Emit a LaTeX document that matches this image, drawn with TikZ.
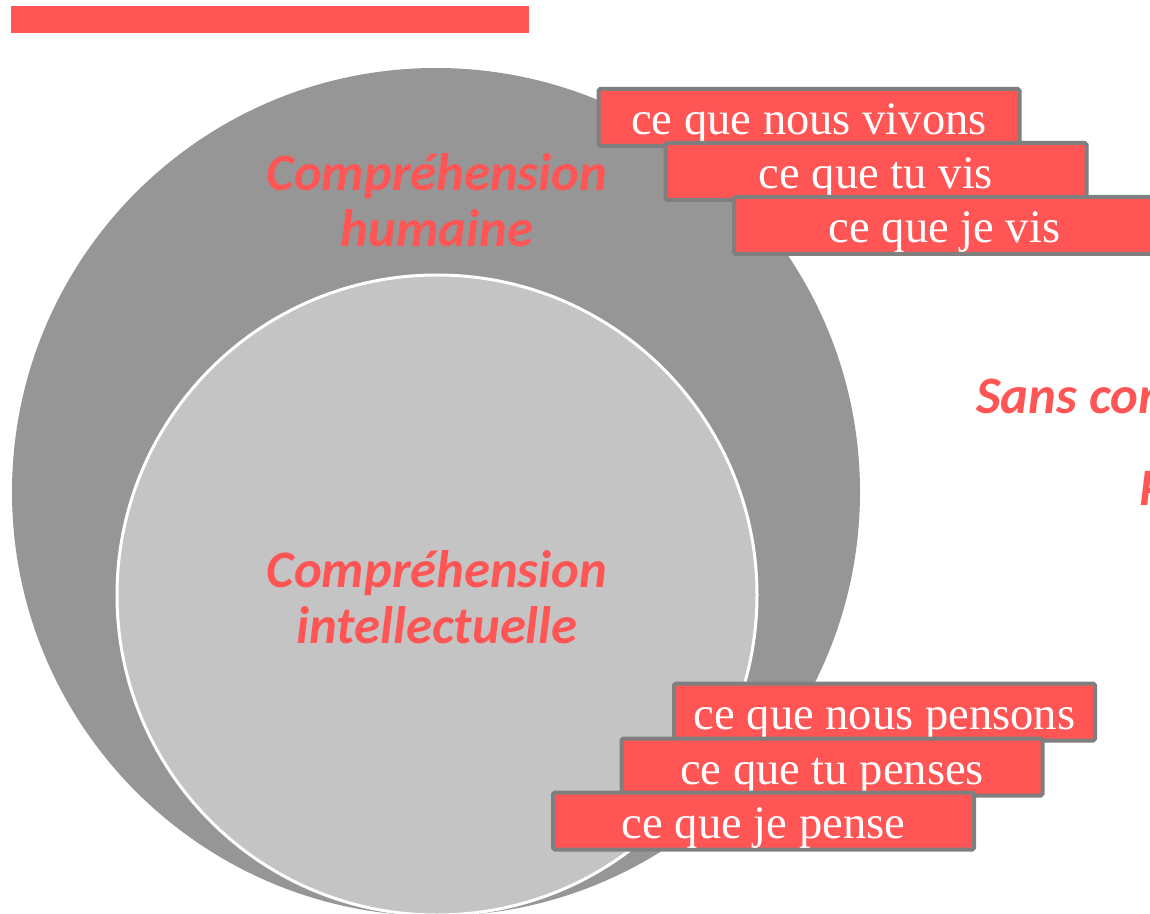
\documentclass[tikz,border=0pt]{standalone}
\usepackage{fontspec}
\setmainfont{Liberation Serif}
\newfontfamily\labelfont{Carlito}
\usetikzlibrary{positioning}

\definecolor{boxred}{HTML}{FF5555}
\definecolor{boxgray}{HTML}{7F7F7F}
\definecolor{outergray}{HTML}{969696}
\definecolor{innergray}{HTML}{C4C4C4}

\tikzset{
  stackbox/.style={draw=boxgray, fill=boxred, rectangle, line width=0.08cm, rounded corners=1pt,
    minimum width=8.42cm, minimum height=1.14cm, inner sep=0pt, text=white,
    text height=0.8cm, text depth=0.1cm,
    font=\fontsize{26.5}{30}\selectfont},
  redlabel/.style={text=boxred, align=center, font=\labelfont\bfseries\itshape\fontsize{30}{32}\selectfont}
}

\begin{document}
\begin{tikzpicture}

  \useasboundingbox (0,0) rectangle (23,-18.28);
  \clip (0,0) rectangle (23,-18.28);

  % Title bar
  \fill[boxred] (0.22,-0.12) rectangle (10.58,-0.66);

  % Circles
  \fill[outergray] (8.72,-9.84) circle (8.48cm);
  \draw[fill=innergray, draw=white, line width=0.06cm] (8.74,-11.9) circle (6.4cm);

  \node[redlabel] (humaine) at (8.74,-4.0) {Compréhension\\humaine};
  \node[redlabel] (intellect) at (8.74,-11.94) {Compréhension\\intellectuelle};

  % Sans ...
  \node[redlabel, anchor=west] (sans) at (19.4,-7.98) {Sans compréhension};
  \node[redlabel, anchor=west] (sans2) at (22.66,-9.78) {Pas};

  % Vivre
  \node[stackbox] (vivons) at (16.18,-2.35) {ce que nous vivons};
  \node[stackbox, below=-0.14cm of vivons, xshift=1.34cm] (vis-tu) {ce que tu vis};
  \node[stackbox, below=-0.14cm of vis-tu, xshift=1.37cm] (vis-je) {ce que je vis};

  % Penser
  \node[stackbox] (pensons) at (17.69,-14.24) {ce que nous pensons};
  \node[stackbox, below=-0.12cm of pensons, xshift=-1.05cm] (penses-tu) {ce que tu penses};
  \node[stackbox, below=-0.14cm of penses-tu, xshift=-1.37cm] (pense-je) {ce que je pense};

\end{tikzpicture}
\end{document}
